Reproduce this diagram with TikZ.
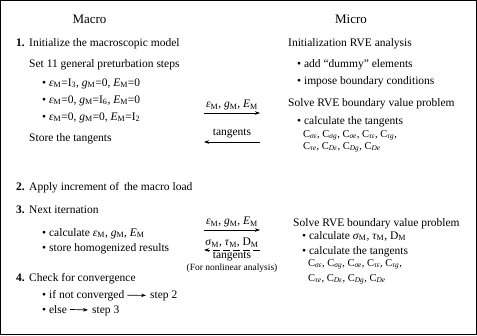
\documentclass[tikz,border=0pt]{standalone}
\usepackage{fontspec}
\setmainfont{Liberation Serif}
\usetikzlibrary{arrows.meta,positioning}

\newcommand{\qM}[1]{\textit{#1}\textsubscript{M}}
\newcommand{\uM}[1]{#1\textsubscript{M}}
\newcommand{\Cs}[1]{C\textsubscript{\textit{#1}}}

\begin{document}
\begin{tikzpicture}[x=1pt,y=-1pt,
  heading/.style={font=\fontsize{13}{15}\selectfont, inner sep=0pt},
  txt/.style={anchor=base west, font=\fontsize{11.5}{13}\selectfont, inner sep=0pt},
  ctxt/.style={anchor=base west, font=\fontsize{10.5}{12}\selectfont, inner sep=0pt},
  num/.style={anchor=base west, font=\fontsize{11.5}{13}\selectfont\bfseries, inner sep=0pt},
  lbl/.style={font=\fontsize{11.5}{13}\selectfont, inner sep=1pt},
  small/.style={font=\fontsize{9.5}{11}\selectfont, inner sep=1pt},
  msg/.style={-{Stealth[length=5pt,width=3.5pt]}, line width=0.7pt},
  back/.style={msg, dash pattern=on 7pt off 3pt}
]
  \def\nx{16} \def\lx{29} \def\px{42} \def\rx{288} \def\rpx{297}
  \def\ax{204} \def\bx{260}
  \useasboundingbox (0,0) rectangle (477,335);
  \draw[line width=1.2pt] (0.6,0.6) rectangle (476.4,334.4);

  % column titles
  \node[heading] (macro) at (89.5,19) {Macro};
  \node[heading] (micro) at (351,19) {Micro};

  % macro side
  \node[num] (n1) at (\nx,46) {1.};
  \node[txt] (s1) at (\lx,46) {Initialize the macroscopic model};
  \node[txt] (set) at (\lx,67) {Set 11 general preturbation steps};
  \node[txt] (p1) at (\px,86) {• \qM{ε}=I\textsubscript{3}, \qM{g}=0, \qM{E}=0};
  \node[txt] (p2) at (\px,103) {• \qM{ε}=0, \qM{g}=I\textsubscript{6}, \qM{E}=0};
  \node[txt] (p3) at (\px,120) {• \qM{ε}=0, \qM{g}=0, \qM{E}=I\textsubscript{2}};
  \node[txt] (store) at (\lx,141) {Store the tangents};

  \node[num] (n2) at (\nx,190) {2.};
  \node[txt] (s2) at (\lx,190) {Apply increment of\, the macro load};

  \node[num] (n3) at (\nx,213) {3.};
  \node[txt] (s3) at (\lx,213) {Next iternation};
  \node[txt] (calc) at (\px,236) {• calculate \qM{ε}, \qM{g}, \qM{E}};
  \node[txt] (homog) at (\px,251) {• store homogenized results};

  \node[num] (n4) at (\nx,281) {4.};
  \node[txt] (s4) at (\lx,281) {Check for convergence};
  \node[txt] (ifnc) at (\px,298) {• if not converged};
  \node[txt] (go2) at (150,298) {step 2};
  \node[txt] (els) at (\px,313) {• else};
  \node[txt] (go3) at (92,313) {step 3};
  \draw[msg, shorten <=3pt, shorten >=4pt] (ifnc) -- (go2);
  \draw[msg, shorten <=3pt, shorten >=4pt] (els) -- (go3);

  % micro side
  \node[txt] (init) at (\rx,46) {Initialization RVE analysis};
  \node[txt] (dummy) at (\rpx,67) {• add “dummy” elements};
  \node[txt] (bc) at (\rpx,84) {• impose boundary conditions};
  \node[txt] (solve1) at (\rx,106) {Solve RVE boundary value problem};
  \node[txt] (tan1) at (\rpx,124) {• calculate the tangents};
  \node[ctxt] (c1a) at (303,137) {\Cs{σε}, \Cs{σg}, \Cs{σe}, \Cs{τε}, \Cs{τg},};
  \node[ctxt] (c1b) at (303,149) {\Cs{τe}, \Cs{Dε}, \Cs{Dg}, \Cs{De}};

  \node[txt] (solve2) at (293,226) {Solve RVE boundary value problem};
  \node[txt] (sig) at (302,239) {• calculate \qM{σ}, \qM{τ}, \uM{D}};
  \node[txt] (tan2) at (302,254) {• calculate the tangents};
  \node[ctxt] (c2a) at (308,266) {\Cs{σε}, \Cs{σg}, \Cs{σe}, \Cs{τε}, \Cs{τg},};
  \node[ctxt] (c2b) at (308,281) {\Cs{τe}, \Cs{Dε}, \Cs{Dg}, \Cs{De}};

  % exchange between the scales
  \coordinate (up1w) at (\ax,113);  \coordinate (up1e) at (\bx,113);
  \coordinate (dn1w) at (\ax,142);  \coordinate (dn1e) at (\bx,142);
  \coordinate (up2w) at (\ax,230);  \coordinate (up2e) at (\bx,230);
  \coordinate (dn2w) at (\ax,250);  \coordinate (dn2e) at (\bx,250);

  \draw[msg] (up1w) -- node[lbl, midway, above=2pt] (v1) {\qM{ε}, \qM{g}, \qM{E}} (up1e);
  \draw[msg] (dn1e) -- node[lbl, midway, above=3pt] (t1) {tangents} (dn1w);
  \draw[msg] (up2w) -- node[lbl, midway, above=2pt] (v2) {\qM{ε}, \qM{g}, \qM{E}} (up2e);
  \draw[back] (dn2e) -- node[lbl, midway, above=1pt] (r2) {\qM{σ}, \qM{τ}, \uM{D}} (dn2w);
  \node[lbl, below=1pt of dn2w -| r2] (t2) {tangents};
  \node[small, below=0pt of t2] (nl) {(For nonlinear analysis)};
\end{tikzpicture}
\end{document}
